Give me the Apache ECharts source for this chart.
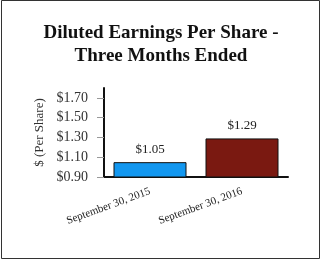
<!DOCTYPE html>
<html><head><meta charset="utf-8">
<script src="https://cdn.jsdelivr.net/npm/echarts@6/dist/echarts.min.js"></script>
<style>html,body{margin:0;padding:0;background:#fff}#c{width:322px;height:260px}</style>
</head><body><div id="c"></div>
<script>
const titleLines = ['Diluted Earnings Per Share -', 'Three Months Ended'];
const categories = ['September 30, 2015', 'September 30, 2016'];
const values = [1.05, 1.29];
const barColors = ['#1297f0', '#7a1911'];
const yTicks = [0.90, 1.10, 1.30, 1.50, 1.70];
const yMin = 0.9, yMax = 1.8;
const yName = '$ (Per Share)';

const serif = '"Liberation Serif", "Times New Roman", serif';
const chart = echarts.init(document.getElementById('c'), null, {renderer: 'canvas'});
chart.setOption({
  animation: false,
  title: {
    text: titleLines.join('\n'), left: 'center', top: 17,
    textStyle: {fontFamily: serif, fontSize: 19, fontWeight: 'bold', color: '#111', lineHeight: 23}
  },
  graphic: [{type: 'rect', shape: {x: 1.5, y: 0.5, width: 318, height: 258}, style: {fill: null, stroke: '#333', lineWidth: 1}, silent: true}],
  grid: {left: 104, right: 34, top: 88, bottom: 83, containLabel: false},
  xAxis: {
    type: 'category', data: categories,
    axisLine: {lineStyle: {color: '#111', width: 2}},
    axisTick: {alignWithLabel: true, length: 7, lineStyle: {color: '#888'}},
    axisLabel: {rotate: 20, fontFamily: serif, fontSize: 11, color: '#222', margin: 14}
  },
  yAxis: {
    type: 'value', min: yMin, max: yMax,
    name: yName, nameLocation: 'middle', nameGap: 58, nameRotate: 90,
    nameTextStyle: {fontFamily: serif, fontSize: 13, color: '#333'},
    splitLine: {show: false},
    axisLine: {show: true, lineStyle: {color: '#111', width: 2}},
    axisTick: {show: true, length: 7, customValues: yTicks, lineStyle: {color: '#999'}},
    axisLabel: {customValues: yTicks, fontFamily: serif, fontSize: 14, color: '#333', margin: 16,
      formatter: v => '$' + v.toFixed(2)}
  },
  series: [{
    type: 'bar', barWidth: 73,
    data: values.map((v, i) => ({value: v, itemStyle: {color: barColors[i]}})),
    itemStyle: {borderColor: '#111', borderWidth: 1},
    label: {show: true, position: 'top', distance: 6, fontFamily: serif, fontSize: 13, color: '#222',
      formatter: p => '$' + p.value.toFixed(2)}
  }]
});
</script></body></html>
